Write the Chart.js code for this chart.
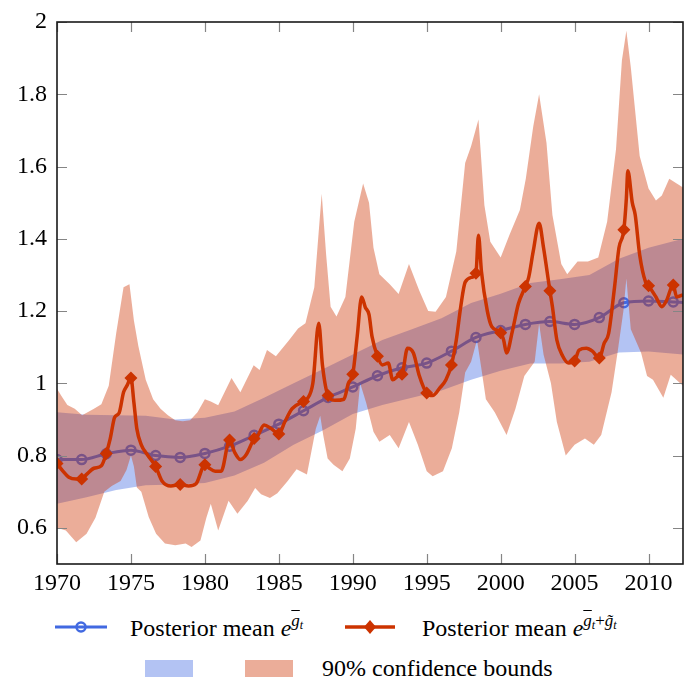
<!DOCTYPE html>
<html>
<head>
<meta charset="utf-8">
<script src="https://cdn.jsdelivr.net/npm/chart.js@4.4.1/dist/chart.umd.min.js"></script>
<style>
  html, body { margin:0; padding:0; background:#fff; overflow:hidden; }
  #wrap { position:relative; width:688px; height:684px; overflow:hidden; }
  #box { position:absolute; left:0; top:0; width:690px; height:600px; }
  .lg { position:absolute; font-family:"Liberation Serif", serif; font-size:24px; line-height:24px; color:#000; white-space:nowrap; }
  .mi { font-style:italic; }
  .sup { position:relative; top:-10px; font-size:17px; }
  .sub { position:relative; top:3px; font-size:12px; }
  .ov { text-decoration:overline; }
  .patch { position:absolute; width:48px; height:17px; }
</style>
</head>
<body>
<div id="wrap">
  <div id="box"><canvas id="c" width="690" height="600"></canvas></div>

  <svg class="lg" style="left:52px;top:617px" width="60" height="20">
    <line x1="3" y1="10" x2="55" y2="10" stroke="#4169e1" stroke-width="3"/>
    <circle cx="29" cy="10" r="4.5" fill="none" stroke="#4169e1" stroke-width="2.5"/>
  </svg>
  <div class="lg" style="left:130px;top:616px">Posterior mean <span class="mi">e</span><span class="sup"><span class="mi ov">g</span><span class="sub mi">t</span></span></div>

  <svg class="lg" style="left:342px;top:617px" width="60" height="20">
    <line x1="3" y1="10" x2="53" y2="10" stroke="#cc3300" stroke-width="3.5"/>
    <polygon points="28,3 34,10 28,17 22,10" fill="#cc3300"/>
  </svg>
  <div class="lg" style="left:422px;top:616px">Posterior mean <span class="mi">e</span><span class="sup"><span class="mi ov">g</span><span class="sub mi">t</span>+<span class="mi">g&#x303;</span><span class="sub mi">t</span></span></div>

  <div class="patch" style="left:145px;top:660px;background:rgba(65,105,225,0.4)"></div>
  <div class="patch" style="left:245px;top:660px;background:rgba(204,51,0,0.4)"></div>
  <div class="lg" style="left:322px;top:656px">90% confidence bounds</div>
</div>

<script>
// ---------- data ----------
const xTicks = [1970, 1975, 1980, 1985, 1990, 1995, 2000, 2005, 2010];
const yTicks = [0.6, 0.8, 1, 1.2, 1.4, 1.6, 1.8, 2];

// marker dates (every 20 months)
const markerYears = [1970, 1971.67, 1973.33, 1975, 1976.67, 1978.33, 1980, 1981.67, 1983.33, 1985,
  1986.67, 1988.33, 1990, 1991.67, 1993.33, 1995, 1996.67, 1998.33, 2000, 2001.67, 2003.33, 2005,
  2006.67, 2008.33, 2010, 2011.67];

// posterior mean e^{gbar_t}
const blueMeanYears = [1970, 1971.67, 1973.33, 1975, 1976.67, 1978.33, 1980, 1981.67, 1983.33, 1985,
  1986.67, 1988.33, 1990, 1991.67, 1993.33, 1995, 1996.67, 1998.33, 2000, 2001.67, 2003.33, 2005,
  2006.67, 2008.33, 2010, 2011.67, 2012.33];
const blueMeanValues = [0.789, 0.789, 0.805, 0.815, 0.800, 0.795, 0.806, 0.826, 0.856, 0.887,
  0.924, 0.961, 0.990, 1.021, 1.043, 1.056, 1.089, 1.127, 1.146, 1.163, 1.171, 1.163,
  1.182, 1.223, 1.228, 1.225, 1.224];

// 90% band of e^{gbar_t}
const blueBandYears = [1970, 1972, 1974, 1976, 1978, 1980, 1982, 1984, 1986, 1988, 1990, 1992,
  1994, 1996, 1998, 2000, 2002, 2004, 2006, 2008, 2010, 2012.33];
const blueUpper = [0.920, 0.913, 0.912, 0.910, 0.900, 0.905, 0.922, 0.960, 1.000, 1.040, 1.080, 1.120,
  1.150, 1.180, 1.222, 1.248, 1.278, 1.288, 1.300, 1.345, 1.375, 1.400];
const blueLower = [0.667, 0.685, 0.705, 0.718, 0.720, 0.724, 0.745, 0.780, 0.830, 0.870, 0.915, 0.940,
  0.960, 0.980, 1.010, 1.035, 1.055, 1.055, 1.060, 1.085, 1.088, 1.080];

// posterior mean e^{gbar_t + gtilde_t}
const redMeanYears = [1970, 1970.4, 1970.8, 1971.3, 1971.67, 1972, 1972.5, 1973, 1973.33, 1973.6,
  1973.9, 1974.2, 1974.5, 1974.75, 1975, 1975.2, 1975.4, 1975.7, 1976.1, 1976.67, 1977.1, 1977.7,
  1978.33, 1978.9, 1979.4, 1980, 1980.3, 1980.7, 1981.1, 1981.67, 1982, 1982.4, 1982.8, 1983.33,
  1983.6, 1984, 1984.5, 1985, 1985.4, 1985.9, 1986.67, 1986.9, 1987.3, 1987.7, 1987.95, 1988.33,
  1988.8, 1989.4, 1989.7, 1990, 1990.3, 1990.6, 1990.85, 1991.1, 1991.3, 1991.67, 1992, 1992.4,
  1992.7, 1993.1, 1993.33, 1993.7, 1994.1, 1994.5, 1995, 1995.4, 1995.9, 1996.3, 1996.67, 1997,
  1997.3, 1997.6, 1998.1, 1998.33, 1998.5, 1998.7, 1999.1, 1999.4, 2000, 2000.2, 2000.4, 2000.8,
  2001.2, 2001.67, 2001.9, 2002.2, 2002.6, 2002.9, 2003.33, 2003.5, 2003.8, 2004.2, 2004.6, 2005,
  2005.3, 2005.8, 2006.2, 2006.67, 2007, 2007.3, 2007.7, 2008, 2008.33, 2008.5, 2008.6, 2008.9,
  2009.1, 2009.4, 2009.8, 2010, 2010.5, 2010.9, 2011.2, 2011.67, 2011.9, 2012.33];
const redMeanValues = [0.778, 0.757, 0.740, 0.735, 0.735, 0.748, 0.765, 0.772, 0.806, 0.847,
  0.906, 0.918, 0.975, 0.995, 1.015, 0.947, 0.874, 0.830, 0.803, 0.770, 0.730, 0.716,
  0.720, 0.716, 0.722, 0.775, 0.765, 0.757, 0.757, 0.843, 0.810, 0.789, 0.803, 0.847,
  0.857, 0.885, 0.874, 0.860, 0.893, 0.930, 0.950, 0.956, 1.000, 1.166, 1.050, 0.966,
  0.953, 0.956, 1.000, 1.025, 1.130, 1.239, 1.210, 1.190, 1.130, 1.075, 1.051, 1.056,
  1.010, 1.021, 1.025, 1.097, 1.084, 1.021, 0.973, 0.966, 0.988, 1.010, 1.051, 1.120,
  1.212, 1.280, 1.294, 1.305, 1.410, 1.310, 1.200, 1.157, 1.140, 1.120, 1.084, 1.146,
  1.220, 1.268, 1.294, 1.365, 1.443, 1.375, 1.256, 1.212, 1.120, 1.075, 1.056, 1.062,
  1.092, 1.097, 1.089, 1.070, 1.111, 1.138, 1.266, 1.375, 1.425, 1.512, 1.588, 1.500,
  1.466, 1.356, 1.280, 1.270, 1.239, 1.212, 1.228, 1.272, 1.239, 1.245];

// 90% band of e^{gbar_t + gtilde_t}
const redUpperYears = [1970, 1970.3, 1970.7, 1971.2, 1971.7, 1972.5, 1973, 1973.5, 1974, 1974.5,
  1974.9, 1975.2, 1975.5, 1976, 1976.5, 1977, 1977.5, 1978, 1978.5, 1979, 1979.5, 1980, 1980.4,
  1980.9, 1981.8, 1982.4, 1983.3, 1983.7, 1984.2, 1984.8, 1985.7, 1986.3, 1986.8, 1987.4, 1987.9,
  1988.2, 1988.5, 1988.9, 1989.5, 1990.1, 1990.7, 1991.1, 1991.4, 1991.8, 1992.5, 1993.1, 1993.8,
  1994.5, 1995.1, 1995.6, 1996.3, 1997, 1997.6, 1998, 1998.5, 1998.9, 1999.3, 2000, 2000.6,
  2001.3, 2001.7, 2002.2, 2002.6, 2003.1, 2003.5, 2004.1, 2004.5, 2005.2, 2005.9, 2006.6, 2007.2,
  2007.8, 2008.2, 2008.5, 2008.8, 2009.4, 2010, 2010.5, 2010.9, 2011.4, 2012.33];
const redUpperValues = [0.985, 0.965, 0.940, 0.930, 0.912, 0.930, 0.942, 0.993, 1.138, 1.266,
  1.274, 1.174, 1.103, 1.010, 0.956, 0.930, 0.912, 0.898, 0.895, 0.898, 0.920, 0.956, 0.950,
  0.939, 1.015, 0.975, 1.050, 1.037, 1.092, 1.075, 1.120, 1.152, 1.166, 1.266, 1.525,
  1.356, 1.212, 1.185, 1.239, 1.447, 1.553, 1.500, 1.375, 1.302, 1.274, 1.247, 1.330,
  1.256, 1.200, 1.198, 1.239, 1.365, 1.610, 1.656, 1.730, 1.493, 1.392, 1.348, 1.411,
  1.480, 1.566, 1.710, 1.800, 1.665, 1.466, 1.330, 1.302, 1.337, 1.337, 1.348, 1.447,
  1.648, 1.894, 1.976, 1.875, 1.629, 1.539, 1.506, 1.520, 1.566, 1.542];

const redLowerYears = [1970, 1970.6, 1971.3, 1972, 1972.6, 1973.2, 1973.7, 1974.3, 1974.7, 1975,
  1975.2, 1975.4, 1975.7, 1976.2, 1976.7, 1977.3, 1978, 1978.7, 1979.1, 1979.7, 1980.1, 1980.4,
  1980.9, 1981.6, 1982.2, 1982.9, 1983.4, 1983.8, 1984.4, 1984.9, 1985.6, 1986.2, 1986.9, 1987.5,
  1987.8, 1988, 1988.3, 1988.7, 1989.3, 1989.8, 1990.2, 1990.5, 1990.9, 1991.4, 1991.8, 1992.5,
  1993.1, 1993.8, 1994.4, 1995, 1995.4, 1996.1, 1996.7, 1997.2, 1997.6, 1998, 1998.4, 1998.7,
  1999, 1999.6, 2000.4, 2001, 2001.6, 2002.3, 2002.6, 2002.9, 2003.4, 2003.8, 2004.4, 2005,
  2005.7, 2006.3, 2006.8, 2007.5, 2007.9, 2008.3, 2008.5, 2008.8, 2009.5, 2009.9, 2010.3, 2011,
  2011.5, 2012.33];
const redLowerValues = [0.600, 0.593, 0.560, 0.584, 0.628, 0.700, 0.716, 0.730, 0.760, 0.800,
  0.770, 0.712, 0.700, 0.630, 0.584, 0.557, 0.552, 0.557, 0.547, 0.565, 0.628, 0.667,
  0.593, 0.675, 0.639, 0.675, 0.710, 0.693, 0.683, 0.696, 0.730, 0.762, 0.748, 0.874,
  0.910, 0.857, 0.792, 0.775, 0.757, 0.792, 0.874, 1.000, 0.947, 0.866, 0.838, 0.857,
  0.820, 0.893, 0.830, 0.757, 0.743, 0.757, 0.820, 0.920, 1.030, 1.060, 1.120, 1.040,
  0.956, 0.920, 0.857, 0.930, 1.020, 1.060, 1.165, 1.080, 1.000, 0.893, 0.800, 0.830,
  0.847, 0.830, 0.857, 0.975, 1.084, 1.200, 1.290, 1.150, 1.084, 1.020, 1.010, 0.960,
  1.024, 0.993];

// ---------- chart ----------
const pts = (xs, ys) => xs.map((x, i) => ({ x: x, y: ys[i] }));
const isMarker = x => markerYears.some(m => Math.abs(m - x) < 0.005);
const FONT = { family: "'Liberation Serif', 'DejaVu Serif', serif", size: 24, lineHeight: 1 };

const framePlugin = {
  id: 'frame',
  afterDatasetsDraw(chart) {
    const { ctx, chartArea: a, scales: { x, y } } = chart;
    ctx.save();
    ctx.strokeStyle = '#858585';
    ctx.lineWidth = 1.2;
    ctx.beginPath();
    xTicks.forEach(v => {
      const px = Math.round(x.getPixelForValue(v)) + 0.5;
      ctx.moveTo(px, a.bottom); ctx.lineTo(px, a.bottom - 10);
      ctx.moveTo(px, a.top); ctx.lineTo(px, a.top + 10);
    });
    yTicks.forEach(v => {
      const py = Math.round(y.getPixelForValue(v)) + 0.5;
      ctx.moveTo(a.left, py); ctx.lineTo(a.left + 10, py);
      ctx.moveTo(a.right, py); ctx.lineTo(a.right - 10, py);
    });
    ctx.stroke();
    ctx.strokeStyle = '#1a1a1a';
    ctx.lineWidth = 1.6;
    ctx.strokeRect(a.left, a.top, a.right - a.left, a.bottom - a.top);
    ctx.restore();
  }
};

new Chart(document.getElementById('c'), {
  type: 'line',
  data: {
    datasets: [
      { // red posterior mean
        data: pts(redMeanYears, redMeanValues), order: 0,
        borderColor: '#cc3300', borderWidth: 3.5, cubicInterpolationMode: 'monotone',
        pointStyle: 'rectRot', pointRadius: c => isMarker(c.raw.x) ? 6.5 : 0,
        pointBackgroundColor: '#cc3300', pointBorderColor: '#cc3300', pointBorderWidth: 0,
        fill: false
      },
      { // red band upper
        data: pts(redUpperYears, redUpperValues), order: 1,
        borderWidth: 0, pointRadius: 0, tension: 0,
        fill: { target: 2 }, backgroundColor: 'rgba(204,51,0,0.4)'
      },
      { // red band lower
        data: pts(redLowerYears, redLowerValues), order: 1,
        borderWidth: 0, pointRadius: 0, tension: 0, fill: false
      },
      { // blue posterior mean
        data: pts(blueMeanYears, blueMeanValues), order: 2,
        borderColor: '#4169e1', borderWidth: 3, cubicInterpolationMode: 'monotone',
        pointStyle: 'circle', pointRadius: c => isMarker(c.raw.x) ? 4.5 : 0,
        pointBorderWidth: 2.5, pointBorderColor: '#4169e1', pointBackgroundColor: 'rgba(0,0,0,0)',
        fill: false
      },
      { // blue band upper
        data: pts(blueBandYears, blueUpper), order: 3,
        borderWidth: 0, pointRadius: 0, tension: 0,
        fill: { target: 5 }, backgroundColor: 'rgba(65,105,225,0.4)'
      },
      { // blue band lower
        data: pts(blueBandYears, blueLower), order: 3,
        borderWidth: 0, pointRadius: 0, tension: 0, fill: false
      }
    ]
  },
  options: {
    responsive: false, animation: false, devicePixelRatio: 1,
    layout: { padding: { top: 14, right: 1, left: 0, bottom: 0 } },
    plugins: { legend: { display: false }, tooltip: { enabled: false } },
    scales: {
      x: {
        type: 'linear', min: 1970, max: 2012.33,
        afterBuildTicks: s => { s.ticks = xTicks.map(v => ({ value: v })); },
        afterFit: s => { s.height = 36; },
        grid: { display: false, drawTicks: false, tickLength: 0 },
        border: { display: false },
        ticks: { font: FONT, color: '#000', padding: 8, maxRotation: 0, autoSkip: false,
                 callback: v => String(v) }
      },
      y: {
        type: 'linear', min: 0.5, max: 2,
        afterBuildTicks: s => { s.ticks = yTicks.map(v => ({ value: v })); },
        afterFit: s => { s.width = 57; },
        grid: { display: false, drawTicks: false, tickLength: 0 },
        border: { display: false },
        ticks: { font: FONT, color: '#000', padding: 10, autoSkip: false,
                 callback: v => String(Math.round(v * 10) / 10) }
      }
    }
  },
  plugins: [framePlugin]
});
</script>
</body>
</html>
